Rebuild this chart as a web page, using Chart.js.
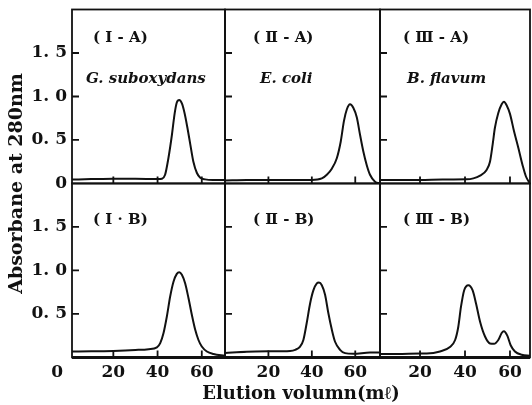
<!DOCTYPE html>
<html>
<head>
<meta charset="utf-8">
<script src="https://cdn.jsdelivr.net/npm/chart.js@4.4.1/dist/chart.umd.min.js"></script>
<style>
  html, body { margin: 0; padding: 0; background: #fff; }
</style>
</head>
<body>
<canvas id="elution" width="532" height="405"></canvas>
<script>
// elution profiles: volume (ml) vs absorbance at 280 nm
const vol_IA = [1.3, 10, 20, 30, 40, 42, 43.4, 44.9, 46.5, 47.7, 48.7, 49.8, 51.0, 52.2, 53.5, 54.8, 56.2, 57.8, 59.3, 61.5, 65, 70.5];
const abs_IA = [0.045, 0.05, 0.055, 0.055, 0.05, 0.055, 0.1, 0.29, 0.56, 0.80, 0.93, 0.96, 0.92, 0.81, 0.64, 0.45, 0.25, 0.12, 0.066, 0.047, 0.04, 0.04];

const vol_IIA = [0, 10, 20, 30, 40, 44.6, 46.9, 49.2, 51.5, 53.3, 54.8, 56.1, 57.6, 59.1, 60.7, 62.2, 63.7, 65.3, 66.8, 69.1, 71.4];
const abs_IIA = [0.035, 0.04, 0.04, 0.04, 0.04, 0.058, 0.1, 0.17, 0.29, 0.48, 0.72, 0.85, 0.91, 0.87, 0.76, 0.56, 0.37, 0.21, 0.1, 0.02, 0.0];

const vol_IIIA = [2.2, 10, 20, 30, 40.7, 43.7, 46.7, 49.6, 51.1, 52.3, 53.3, 54.8, 56.3, 57.3, 58.5, 60, 61.8, 63.7, 65.6, 67.1, 68.9];
const abs_IIIA = [0.04, 0.04, 0.04, 0.045, 0.047, 0.058, 0.09, 0.155, 0.25, 0.45, 0.64, 0.81, 0.91, 0.94, 0.90, 0.80, 0.60, 0.41, 0.21, 0.08, 0.0];

const vol_IB = [1.3, 10, 20, 30, 36, 39.7, 41.2, 42.7, 44.2, 45.7, 47.2, 48.7, 49.8, 51, 52.5, 54, 55.5, 57, 58.5, 60, 62.3, 65.3, 70.5];
const abs_IB = [0.068, 0.07, 0.075, 0.085, 0.095, 0.115, 0.164, 0.28, 0.47, 0.70, 0.87, 0.96, 0.98, 0.95, 0.85, 0.68, 0.49, 0.32, 0.20, 0.125, 0.068, 0.04, 0.02];

const vol_IIB = [0, 10, 20, 30, 32.3, 34.6, 36.1, 37.6, 39.2, 40.7, 42.3, 43.3, 44.6, 46.1, 47.6, 49.2, 50.7, 53, 55.3, 59.1, 66.8, 71.4];
const abs_IIB = [0.05, 0.065, 0.07, 0.075, 0.087, 0.125, 0.20, 0.39, 0.62, 0.77, 0.85, 0.86, 0.83, 0.72, 0.51, 0.32, 0.18, 0.087, 0.049, 0.041, 0.056, 0.056];

const vol_IIIB = [2.2, 10, 20, 23, 28.9, 33.3, 35.6, 37, 38.2, 39.6, 41.5, 43.4, 44.9, 46.7, 48.9, 51.1, 52.9, 54.8, 56.3, 57.3, 58.8, 60.3, 62.2, 65.2, 68.9];
const abs_IIIB = [0.04, 0.04, 0.045, 0.045, 0.068, 0.12, 0.20, 0.35, 0.58, 0.77, 0.83, 0.77, 0.62, 0.41, 0.24, 0.16, 0.156, 0.20, 0.28, 0.30, 0.25, 0.14, 0.068, 0.03, 0.02];

const panelTags = [['( Ⅰ - A)', '( Ⅱ - A)', '( Ⅲ - A)'], ['( Ⅰ · B)', '( Ⅱ - B)', '( Ⅲ - B)']];
const species = ['G. suboxydans', 'E. coli', 'B. flavum'];

const xTickValues = [20, 40, 60];
const yTicksTop = [0, 0.5, 1.0, 1.5];
const yTicksBottom = [0.5, 1.0, 1.5];
const yTickText = {0: '0', 0.5: '0. 5', 1: '1. 0', 1.5: '1. 5'};
const yTitle = 'Absorbane at 280nm';
const xTitle = 'Elution volumn(mℓ)';

// per-column axis ranges, the scan is not quite evenly spaced
const xRanges = [[1.3, 70.5], [0, 71.4], [2.2, 68.9]];
const colWidths = [153, 155, 150];

const serif = "'DejaVu Serif', 'Liberation Serif', serif";
const ink = '#111';
const cols = ['x1', 'x2', 'x3'];
const rows = ['yA', 'yB'];

function pts(xs, ys) {
  return xs.map((v, i) => ({x: v, y: ys[i]}));
}

function curve(xs, ys, col, row) {
  return {
    data: pts(xs, ys),
    xAxisID: cols[col],
    yAxisID: rows[row],
    borderColor: ink,
    borderWidth: 2,
    pointRadius: 0,
    fill: false,
    cubicInterpolationMode: 'monotone',
    tension: 0.4
  };
}

function noPad(s) {
  s.paddingTop = 0;
  s.paddingBottom = 0;
  s.paddingLeft = 0;
  s.paddingRight = 0;
}

function xAxis(i) {
  return {
    type: 'linear',
    position: 'bottom',
    stack: 'cols',
    stackWeight: colWidths[i],
    min: xRanges[i][0],
    max: xRanges[i][1],
    grid: {display: false, drawTicks: false},
    border: {display: false},
    afterBuildTicks: s => {
      const vals = i === 0 ? [0].concat(xTickValues) : xTickValues;
      s.ticks = vals.map(v => ({value: v}));
    },
    afterFit: s => { s.height = 26; noPad(s); },
    ticks: {
      autoSkip: false,
      maxRotation: 0,
      padding: 5,
      color: ink,
      font: {family: serif, size: 17, weight: 'bold'},
      // the origin "0" sits out under the y labels
      callback: v => v === 0 ? '0    ' : String(v)
    }
  };
}

function yAxis(ticks) {
  return {
    type: 'linear',
    position: 'left',
    stack: 'rows',
    stackWeight: 1,
    min: 0,
    max: 2,
    grid: {display: false, drawTicks: false},
    border: {display: false},
    afterBuildTicks: s => { s.ticks = ticks.map(v => ({value: v})); },
    afterFit: s => { s.width = 41.2; noPad(s); },
    ticks: {
      autoSkip: false,
      padding: 5,
      color: ink,
      font: {family: serif, size: 17, weight: 'bold'},
      callback: v => yTickText[v]
    }
  };
}

const panelFrame = {
  id: 'panelFrame',
  afterDatasetsDraw(chart) {
    const ctx = chart.ctx;
    ctx.save();
    ctx.strokeStyle = ink;
    ctx.lineWidth = 1.8;
    rows.forEach((yId, r) => {
      const ys = chart.scales[yId];
      const yt = r === 0 ? yTicksTop : yTicksBottom;
      cols.forEach(xId => {
        const xs = chart.scales[xId];
        ctx.strokeRect(xs.left, ys.top, xs.right - xs.left, ys.bottom - ys.top);
        ctx.beginPath();
        yt.filter(v => v > 0).forEach(v => {
          const py = ys.getPixelForValue(v);
          ctx.moveTo(xs.left, py);
          ctx.lineTo(xs.left + 7, py);
        });
        xTickValues.forEach(v => {
          const px = xs.getPixelForValue(v);
          ctx.moveTo(px, ys.bottom);
          ctx.lineTo(px, ys.bottom - 7);
        });
        ctx.stroke();
      });
    });
    // heavier base rule
    const yb = chart.scales.yB;
    ctx.lineWidth = 3;
    ctx.beginPath();
    ctx.moveTo(chart.chartArea.left, yb.bottom);
    ctx.lineTo(chart.chartArea.right, yb.bottom);
    ctx.stroke();
    ctx.restore();
  }
};

const panelText = {
  id: 'panelText',
  afterDraw(chart) {
    const ctx = chart.ctx;
    const tagDx = [21, 28, 23];
    const tagDy = [29, 37];
    const spDx = [14, 35, 27];
    ctx.save();
    ctx.fillStyle = ink;
    ctx.textBaseline = 'middle';
    ctx.textAlign = 'left';
    rows.forEach((yId, r) => {
      const ys = chart.scales[yId];
      cols.forEach((xId, c) => {
        const xs = chart.scales[xId];
        ctx.font = 'bold 15px ' + serif;
        ctx.fillText(panelTags[r][c], xs.left + tagDx[c], ys.top + tagDy[r]);
        if (r === 0) {
          ctx.font = 'italic bold 15px ' + serif;
          ctx.fillText(species[c], xs.left + spDx[c], ys.top + 70);
        }
      });
    });
    ctx.restore();
  }
};

new Chart(document.getElementById('elution'), {
  type: 'line',
  data: {
    datasets: [
      curve(vol_IA, abs_IA, 0, 0),
      curve(vol_IIA, abs_IIA, 1, 0),
      curve(vol_IIIA, abs_IIIA, 2, 0),
      curve(vol_IB, abs_IB, 0, 1),
      curve(vol_IIB, abs_IIB, 1, 1),
      curve(vol_IIIB, abs_IIIB, 2, 1)
    ]
  },
  options: {
    responsive: false,
    animation: false,
    layout: {padding: {top: 9.5, right: 2, bottom: 0, left: 0}},
    scales: {
      yB: yAxis(yTicksBottom),
      yA: yAxis(yTicksTop),
      x1: xAxis(0),
      x2: xAxis(1),
      x3: xAxis(2)
    },
    plugins: {
      legend: {display: false},
      tooltip: {enabled: false},
      title: {
        display: true,
        text: yTitle,
        position: 'left',
        fullSize: false,
        color: ink,
        font: {family: serif, size: 19, weight: 'bold'},
        padding: {top: 6, bottom: 2}
      },
      subtitle: {
        display: true,
        text: xTitle,
        position: 'bottom',
        fullSize: false,
        color: ink,
        font: {family: serif, size: 18, weight: 'bold'},
        padding: {top: 0, bottom: 0}
      }
    }
  },
  plugins: [panelFrame, panelText]
});
</script>
</body>
</html>
